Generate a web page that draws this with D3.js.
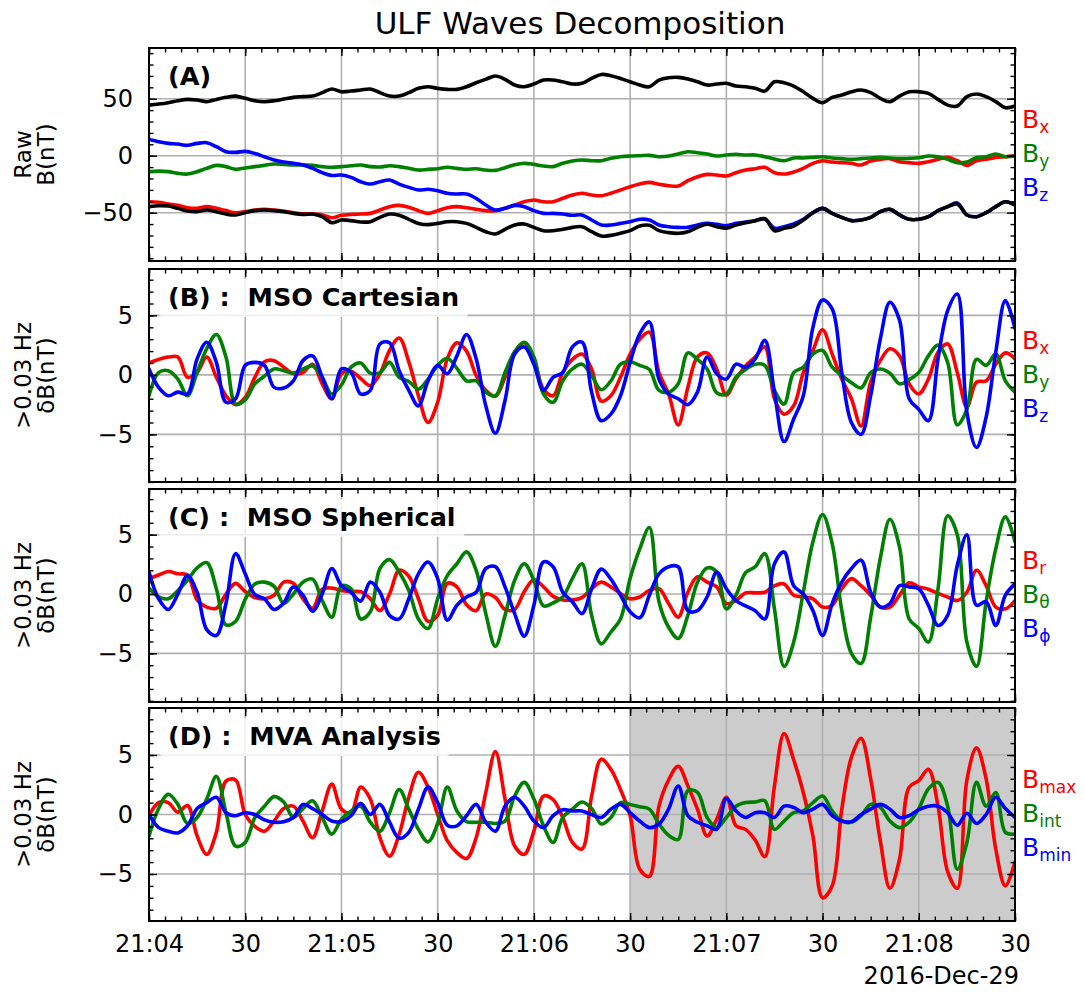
<!doctype html>
<html lang="en">
<head>
<meta charset="utf-8">
<title>ULF Waves Decomposition</title>
<script src="https://d3js.org/d3.v7.min.js"></script>
<style>
  body { margin: 0; background: #fff; }
  svg text { font-family: "DejaVu Sans", sans-serif; fill: #000; }
  .grid line { stroke: #b0b0b0; stroke-width: 1.6; }
  .tick line { stroke: #000; }
  .trace { fill: none; stroke-width: 3.6; stroke-linejoin: round; stroke-linecap: round; }
</style>
</head>
<body>
<svg width="1085" height="996"></svg>
<script>
// ---- data: one reading every 3 s from 21:04:00 to 21:08:30 UT (91 points) ----
// each row of 10 covers one 30 s grid interval
var rawBmag = [
  44.4, 45.3, 46.5, 48.2, 49.4, 48.8, 47.4, 49.4, 51.2, 52.3,
  50.3, 48.2, 47.4, 48.2, 49.7, 51.2, 51.8, 52.3, 55.3, 58.5,
  56.1, 56.7, 57.6, 58.5, 55.3, 52.3, 52.3, 55.3, 59.1, 60.5,
  59.1, 58.2, 58.2, 60.5, 64.0, 67.0, 69.9, 67.0, 62.0, 60.5,
  62.9, 66.4, 66.4, 64.9, 62.9, 63.5, 67.8, 71.3, 70.2, 67.8,
  64.9, 62.0, 60.5, 66.4, 68.4, 68.7, 67.3, 64.9, 62.0, 62.9,
  63.5, 61.1, 60.5, 59.1, 56.7, 64.9, 64.0, 61.1, 56.1, 50.3,
  46.5, 51.2, 53.2, 56.1, 57.6, 55.3, 50.3, 47.4, 52.3, 56.1,
  56.1, 54.7, 49.4, 44.4, 43.6, 51.8, 54.1, 51.8, 47.4, 42.1,
  43.6];
var rawBmagNeg = [
  -44.7, -43.9, -44.2, -46.2, -48.5, -49.1, -47.7, -49.1, -51.2, -52.0,
  -50.0, -48.2, -47.7, -48.2, -49.1, -50.6, -51.5, -51.2, -53.5, -58.8,
  -56.4, -57.0, -58.2, -57.9, -54.1, -51.2, -52.3, -55.8, -59.4, -60.5,
  -59.4, -57.9, -57.9, -59.4, -62.9, -66.7, -68.7, -64.6, -60.8, -59.9,
  -62.9, -65.8, -65.8, -64.6, -62.9, -62.3, -66.7, -70.5, -69.9, -68.1,
  -65.8, -61.7, -61.1, -65.8, -67.5, -68.1, -66.7, -62.9, -60.2, -62.3,
  -63.7, -60.8, -58.8, -57.0, -55.3, -65.8, -63.7, -61.7, -56.4, -50.0,
  -46.2, -50.6, -54.1, -57.0, -56.4, -54.1, -49.1, -47.1, -52.0, -55.8,
  -55.8, -53.5, -48.2, -44.7, -42.4, -52.0, -53.5, -50.0, -44.7, -40.4,
  -43.3];
var rawBx = [
  -40.4, -40.9, -42.4, -43.6, -45.6, -46.2, -44.7, -46.2, -48.2, -50.0,
  -49.1, -47.7, -47.1, -47.7, -48.8, -50.0, -50.9, -51.2, -52.0, -54.4,
  -52.3, -51.5, -51.2, -50.6, -47.7, -44.7, -43.6, -45.3, -48.2, -50.6,
  -48.2, -45.6, -44.7, -45.6, -47.1, -48.2, -48.2, -46.2, -43.3, -40.4,
  -38.9, -40.4, -40.4, -37.4, -34.5, -33.0, -34.5, -35.1, -33.0, -30.1,
  -27.2, -24.9, -23.4, -25.1, -26.3, -26.6, -21.9, -18.4, -16.4, -17.0,
  -17.8, -14.9, -12.6, -11.4, -10.2, -14.9, -16.1, -14.3, -11.1, -6.7,
  -4.4, -5.6, -6.1, -6.7, -8.2, -4.7, -3.2, -2.6, -5.3, -6.1,
  -6.7, -5.3, -3.2, -1.5, -4.4, -8.5, -4.4, -3.2, -1.5, -0.9,
  0.0];
var rawBy = [
  -14.0, -13.5, -14.0, -15.5, -16.1, -14.0, -11.1, -8.5, -9.6, -12.0,
  -10.8, -9.6, -8.5, -7.3, -7.6, -8.2, -7.9, -8.5, -9.6, -10.2,
  -9.6, -8.8, -8.2, -9.6, -9.9, -8.8, -9.6, -11.1, -12.6, -12.0,
  -11.4, -10.2, -11.1, -12.0, -11.4, -12.6, -12.9, -10.5, -7.9, -6.7,
  -7.6, -9.1, -9.6, -6.7, -4.7, -3.8, -4.4, -4.4, -2.3, -0.9,
  -0.3, 0.0, 0.3, -0.9, -0.3, 1.5, 3.5, 2.6, 1.5, -0.3,
  0.6, 1.2, 0.6, 0.6, -0.9, -2.9, -4.4, -2.0, -2.0, -1.5,
  -0.9, -2.0, -2.6, -3.2, -2.6, -2.0, -1.5, -2.0, -2.6, -2.3,
  -1.8, -0.3, -0.9, -3.2, -6.1, -5.6, -1.5, -0.9, 1.5, -0.9,
  -0.3];
var rawBz = [
  14.3, 12.3, 10.8, 10.2, 9.1, 10.8, 11.4, 7.9, 3.5, 2.9,
  3.8, 2.0, -0.9, -3.8, -5.6, -6.7, -8.2, -11.1, -14.9, -17.3,
  -17.0, -19.0, -22.8, -24.9, -22.8, -21.3, -24.9, -27.8, -30.1, -29.5,
  -30.7, -33.0, -33.6, -33.6, -37.4, -43.3, -47.7, -46.2, -43.6, -44.7,
  -48.2, -50.6, -50.6, -51.2, -52.3, -52.0, -56.4, -60.8, -60.8, -59.4,
  -57.9, -55.8, -56.4, -60.8, -62.3, -62.9, -62.9, -60.8, -59.4, -60.2,
  -61.4, -59.4, -58.2, -57.0, -55.6, -63.7, -62.3, -59.9, -55.8, -50.0,
  -46.2, -50.6, -54.1, -57.0, -56.4, -54.1, -49.1, -47.1, -52.0, -55.8,
  -55.8, -53.5, -48.2, -44.7, -41.5, -52.0, -53.5, -50.0, -44.7, -40.4,
  -43.3];

// > 0.03 Hz, MSO cartesian
var cartBx = [
  1.0, 1.3, 1.5, 1.5, -0.2, 0.2, 1.5, -0.2, -1.75, -2.5,
  -1.9, -0.2, 1.1, 1.2, 0.65, 0.1, 0.2, 0.9, -0.75, -2.0,
  0.1, 0.3, -0.3, -0.9, 0.1, 2.05, 3.1, 1.1, -1.75, -4.0,
  -2.3, 1.35, 2.7, 2.0, -0.05, -1.3, -1.8, -0.2, 1.9, 2.7,
  1.35, -1.2, -1.75, 0.2, 1.3, 1.75, 0.5, -2.2, -1.75, -0.2,
  1.75, 3.0, 3.6, 0.2, -1.6, -4.2, -1.05, 1.5, 1.85, 0.5,
  -1.7, -0.35, 0.75, 1.5, 2.35, -2.0, -3.3, -2.6, 0.2, 2.05,
  3.8, 1.75, -0.35, -2.0, -4.3, -0.6, 1.2, 2.2, 1.6, -0.75,
  -1.6, -0.35, 1.9, 2.6, 0.2, -2.7, -0.6, -0.5, 0.9, 1.85,
  1.35];
var cartBy = [
  -1.75, 0.2, 0.35, -0.35, -1.75, 0.2, 2.2, 3.4, 1.5, -2.45,
  -2.1, -0.75, -0.1, 0.5, 0.35, 0.15, 0.5, 0.75, -0.2, -1.6,
  -0.85, 0.65, 1.0, 0.15, 0.2, 1.05, -0.2, -0.55, -1.2, -0.35,
  0.8, 1.4, 0.55, -0.5, -0.5, -1.45, -1.75, 0.2, 1.95, 2.75,
  1.5, -1.6, -2.3, -0.5, 0.5, 0.9, -0.05, -1.25, -0.5, 0.9,
  1.1, 0.8, 0.45, -1.3, -1.45, -0.75, 1.85, 1.3, 0.5, -1.5,
  -1.6, -0.2, 0.45, 0.9, 0.8, -1.3, -2.45, 0.2, 0.65, 1.75,
  2.05, 0.65, -0.05, -0.65, -1.1, 0.2, 0.5, 0.15, -0.75, -0.4,
  0.2, 1.6, 2.5, 1.05, -4.2, -2.9, 1.3, 0.8, 1.75, -0.5,
  -1.45];
var cartBz = [
  0.5, -1.05, -1.75, -1.45, -1.6, 1.35, 2.75, 1.05, -2.3, -2.0,
  0.8, 1.05, 0.8, -1.05, -1.1, -0.5, 1.2, 1.6, -0.2, -2.0,
  0.5, 0.2, -1.6, -1.3, 2.6, 2.7, 0.35, -1.3, -2.6, -0.5,
  0.8, 0.1, 1.6, 3.4, 1.35, -2.6, -4.9, -2.15, 1.75, 2.35,
  0.9, -1.3, -0.2, 0.2, 2.35, 2.75, -1.45, -3.85, -3.3, -1.75,
  1.05, 3.45, 4.45, -0.35, -1.6, -2.0, -2.5, -1.45, 1.5, 0.1,
  -0.35, 0.9, 0.65, 1.35, 2.9, -1.45, -5.6, -3.7, -1.75, 4.0,
  6.3, 5.55, 0.2, -4.0, -5.0, -1.75, 3.0, 6.1, 4.6, -2.0,
  -2.9, -3.85, 1.35, 5.4, 6.8, -3.15, -6.1, -3.55, 1.9, 6.25,
  3.9];

// > 0.03 Hz, MSO spherical
var sphBr = [
  1.3, 1.6, 1.9, 1.7, 1.6, -0.5, -1.1, -1.2, 0.0, 0.9,
  0.2, -0.3, -0.4, -0.1, 1.0, 0.9, -0.4, -1.2, 0.4, 0.5,
  0.3, 0.2, 0.2, -0.4, -1.4, 0.0, 2.0, 1.5, -0.4, -2.3,
  -1.8, 0.9, 0.6, -0.9, -1.4, 0.0, -0.3, -1.3, -1.3, 0.2,
  1.2, 0.6, -0.2, -0.5, -0.5, -0.3, 0.45, 1.0, 0.6, 0.05,
  -0.4, -0.25, 0.3, 0.45, -0.8, -1.95, 0.15, 1.45, 1.0, 0.6,
  -0.8, -0.55, 0.1, 0.1, 0.15, 0.7, 0.85, -0.1, -0.25, -0.4,
  -1.1, -0.95, 0.45, 1.3, 0.7, -0.1, -1.1, -1.1, -0.1, 0.95,
  0.6, 0.4, 0.05, -0.25, -0.55, 0.15, 2.0, 0.7, -1.1, -1.25,
  -0.55];
var sphBth = [
  0.5, -0.25, -0.4, 0.3, 1.15, 2.2, 2.65, 0.45, -2.6, -2.3,
  -0.45, 0.85, 1.0, 0.65, -0.8, 0.0, 1.0, 1.25, -0.55, -1.95,
  0.7, 0.45, -2.1, -1.5, 2.15, 2.9, 1.85, 0.3, -2.1, -2.9,
  -0.4, 1.55, 2.55, 3.55, 2.0, -1.65, -4.4, -1.8, 1.15, 2.55,
  1.15, -1.0, -0.75, -0.25, 1.3, 2.55, -1.8, -4.2, -3.2, -2.1,
  1.3, 3.8, 5.6, -0.65, -2.8, -3.75, -1.8, 1.0, 2.2, 1.85,
  -1.25, -0.1, 1.8, 2.3, 3.4, -1.25, -6.1, -4.05, 0.15, 4.4,
  6.7, 4.25, -1.4, -5.0, -5.85, -1.95, 3.0, 6.3, 3.95, -2.1,
  -2.9, -4.05, 0.45, 6.6, 5.0, -4.05, -6.1, -0.65, 3.8, 6.5,
  4.4];
var sphBph = [
  1.85, -0.4, -1.3, 0.0, 1.55, 0.15, -3.0, -3.5, -0.8, 3.4,
  1.7, -0.05, -0.4, -1.3, -0.75, 0.6, -0.1, -1.45, 0.0, 2.15,
  0.7, 0.15, -0.6, 1.0, 0.15, -1.8, -2.1, -0.4, 1.7, 2.7,
  1.3, -2.2, -0.95, -0.25, 0.15, 2.15, 2.3, 0.6, -1.65, -3.55,
  -0.95, 2.7, 2.3, 0.15, -0.65, -1.65, 0.45, 2.1, 1.25, -0.1,
  -1.5, -2.0, -0.1, 1.7, 2.3, 2.3, -1.4, -1.4, -0.25, 1.85,
  0.45, -0.55, -1.0, -1.4, -2.1, 2.55, 3.55, 0.7, 0.0, -1.4,
  -3.5, -0.8, 1.0, 2.15, 2.85, 0.15, -1.1, -0.8, 0.7, 0.6,
  0.45, -0.95, -2.65, -1.8, 2.4, 5.0, -0.95, -0.65, -2.65, -0.1,
  0.85];

// > 0.03 Hz, minimum variance frame
var mvaBmax = [
  -0.1, 1.0, 1.0, 0.2, 0.75, -1.8, -3.35, -1.5, 2.8, 2.9,
  0.0, -1.0, -1.4, -0.55, 0.5, 0.7, -0.55, -1.95, 0.3, 2.55,
  0.45, 0.15, 2.3, 1.3, -1.95, -3.5, -1.65, 1.45, 3.55, 2.3,
  0.0, -2.2, -3.2, -3.7, -1.95, 1.85, 5.3, 1.3, -2.65, -3.35,
  -1.4, 1.55, 1.25, -0.25, -2.35, -2.9, 1.55, 4.65, 3.8, 2.1,
  -0.1, -4.6, -5.2, 0.7, 2.9, 4.05, 2.4, 0.45, -1.8, -0.4,
  1.45, -0.95, -1.25, -2.15, -3.55, 2.4, 6.8, 4.6, 1.85, -1.8,
  -7.0, -6.0, 0.45, 4.8, 6.4, 3.0, -2.2, -6.2, -3.75, 2.3,
  2.85, 3.8, 0.7, -4.8, -6.2, 2.9, 5.6, 3.0, -2.9, -6.0,
  -4.0];
var mvaBint = [
  -1.8, 0.5, 1.7, 0.85, -0.75, -0.25, 1.3, 3.2, 0.15, -2.65,
  -2.35, -0.25, 0.7, 1.5, 1.05, -0.25, 0.5, 1.15, -0.25, -1.65,
  -0.4, 0.3, 0.7, -0.65, -1.4, 0.15, 2.1, 0.45, -1.25, -2.3,
  -0.75, 2.3, 0.3, -0.6, -0.65, -0.65, -0.75, -0.55, 1.55, 2.7,
  1.3, -0.95, -2.35, -0.25, 0.45, 1.05, 0.5, -0.8, -0.25, 1.0,
  0.85, 0.65, 0.45, -0.8, -1.75, -2.1, 2.0, 1.85, -0.25, -1.1,
  -0.25, 0.7, 1.0, 1.05, 1.15, -1.25, -0.55, 0.15, 0.3, 1.0,
  1.55, 0.3, -0.55, -0.65, -0.1, 0.85, 0.6, -0.55, -1.1, -0.65,
  0.5, 2.15, 2.7, 0.7, -4.6, -2.35, 2.7, 0.7, 1.85, -1.5,
  -1.65];
var mvaBmin = [
  0.0, -1.1, -1.4, -1.55, -0.95, 0.5, 1.0, 1.45, 0.15, -0.1,
  0.15, 0.0, -0.45, -0.65, -0.6, -0.25, 0.85, 0.5, 0.0, -0.55,
  -0.6, -0.1, 0.95, 0.0, 0.85, -0.65, -2.0, -1.5, 0.45, 2.3,
  1.0, -0.9, -0.95, -0.1, 0.85, -0.65, -1.4, 0.7, 1.45, 0.7,
  -0.55, -1.1, -0.1, 0.4, 0.3, 0.3, 0.0, -0.25, 0.45, 0.85,
  0.15, -0.55, -1.1, -0.8, 0.45, 2.4, -0.1, -0.65, -0.95, -1.25,
  1.35, 0.3, -0.25, 0.15, 0.15, -0.25, 0.7, 0.6, 0.15, 0.45,
  0.85, -0.1, -0.55, -0.6, 0.0, 0.45, 0.85, 0.45, -0.25, -0.1,
  0.4, 0.7, 0.7, 0.15, -0.9, 0.1, -0.75, 0.0, 1.45, 0.5,
  -0.25];

var panelLabels = ['(A)', '(B) :  MSO Cartesian', '(C) :  MSO Spherical', '(D) :  MVA Analysis'];
var yLabels = [['Raw', 'B(nT)'], ['>0.03 Hz', 'δB(nT)'], ['>0.03 Hz', 'δB(nT)'], ['>0.03 Hz', 'δB(nT)']];
var legendSubs = [['x', 'y', 'z'], ['x', 'y', 'z'], ['r', 'θ', 'ϕ'], ['max', 'int', 'min']];
var rawTicks = [-50, 0, 50];
var dbTicks = [-5, 0, 5];
var shadeFrom = 150; // seconds after 21:04:00 where the MVA interval starts

// ---- layout ----
var start = Date.UTC(2016, 11, 29, 21, 4, 0);
var secs = d3.range(0, 271, 3);
var times = secs.map(function(s){ return new Date(start + s * 1000); });
var colors = ['#ff0000', '#008000', '#0000ff'];

var left = 149, right = 1015, panelH = 213;
var tops = [48, 269, 489, 708];

var svg = d3.select('svg');

var x = d3.scaleUtc()
  .domain([new Date(start), new Date(start + 270000)])
  .range([left, right]);

var majorX = d3.utcSecond.every(30).range(new Date(start), new Date(start + 270001));
var minorX = d3.utcSecond.every(5).range(new Date(start), new Date(start + 270001));
var fmtX = function(d){ return d.getUTCSeconds() === 0 ? d3.utcFormat('%H:%M')(d) : '30'; };

var panels = [
  { dom: [-92.4, 94.5], major: rawTicks, minor: d3.range(-90, 91, 10),
    series: [[rawBx, colors[0]], [rawBy, colors[1]], [rawBz, colors[2]], [rawBmag, '#000'], [rawBmagNeg, '#000']] },
  { dom: [-9.0, 8.9], major: dbTicks, minor: d3.range(-9, 9, 1),
    series: [[cartBx, colors[0]], [cartBy, colors[1]], [cartBz, colors[2]]] },
  { dom: [-9.1, 8.85], major: dbTicks, minor: d3.range(-9, 9, 1),
    series: [[sphBr, colors[0]], [sphBth, colors[1]], [sphBph, colors[2]]] },
  { dom: [-8.95, 8.95], major: dbTicks, minor: d3.range(-8, 9, 1),
    series: [[mvaBmax, colors[0]], [mvaBint, colors[1]], [mvaBmin, colors[2]]] }
];

function tickAxis(g, axis, values, size, fmt, pad){
  g.call(axis.tickValues(values).tickSize(size).tickPadding(pad || 3).tickFormat(fmt || ''));
  g.select('.domain').remove();
  g.attr('font-family', null).attr('font-size', null);
}

svg.append('text')
  .attr('x', (left + right) / 2 - 2).attr('y', 34)
  .attr('text-anchor', 'middle')
  .style('font-size', '31px')
  .text('ULF Waves Decomposition');

panels.forEach(function(p, i){
  var top = tops[i], bottom = top + panelH;
  var y = d3.scaleLinear().domain(p.dom).range([bottom, top]);
  var g = svg.append('g');

  g.append('clipPath').attr('id', 'clip' + i)
    .append('rect').attr('x', left).attr('y', top).attr('width', right - left).attr('height', panelH);

  if (i === 3) {
    g.append('rect')
      .attr('x', x(new Date(start + shadeFrom * 1000))).attr('y', top)
      .attr('width', right - x(new Date(start + shadeFrom * 1000))).attr('height', panelH)
      .attr('fill', '#cccccc');
  }

  // grid
  var grid = g.append('g').attr('class', 'grid');
  grid.selectAll('.gx').data(majorX.slice(1, -1)).enter().append('line')
    .attr('x1', function(d){ return x(d); }).attr('x2', function(d){ return x(d); })
    .attr('y1', top).attr('y2', bottom);
  grid.selectAll('.gy').data(p.major).enter().append('line')
    .attr('x1', left).attr('x2', right)
    .attr('y1', function(d){ return y(d); }).attr('y2', function(d){ return y(d); });

  // traces
  var line = d3.line()
    .x(function(d, k){ return x(times[k]); })
    .y(function(d){ return y(d); })
    .curve(d3.curveCatmullRom.alpha(0.5));
  var traces = g.append('g').attr('clip-path', 'url(#clip' + i + ')');
  p.series.forEach(function(s){
    traces.append('path').attr('class', 'trace').attr('stroke', s[1]).attr('d', line(s[0]));
  });

  // panel label with a translucent box behind it
  var lab = g.append('text')
    .attr('x', 168).attr('y', top + 37)
    .style('font-size', '25.5px').style('font-weight', 'bold').style('white-space', 'pre')
    .text(panelLabels[i]);
  var bb = lab.node().getBBox();
  g.insert('rect', function(){ return lab.node(); })
    .attr('x', bb.x - 9).attr('y', top + 10)
    .attr('width', bb.width + 18).attr('height', 38)
    .attr('rx', 4)
    .attr('fill', '#fff').attr('fill-opacity', 0.8);

  // ticks, pointing inwards on all four sides
  var gb = g.append('g').attr('transform', 'translate(0,' + bottom + ')');
  tickAxis(gb.append('g'), d3.axisBottom(x), minorX, -4.5);
  tickAxis(gb.append('g'), d3.axisBottom(x), majorX, -8, i === 3 ? fmtX : null, 14);
  var gt = g.append('g').attr('transform', 'translate(0,' + top + ')');
  tickAxis(gt.append('g'), d3.axisTop(x), minorX, -4.5);
  tickAxis(gt.append('g'), d3.axisTop(x), majorX, -8);
  var gl = g.append('g').attr('transform', 'translate(' + left + ',0)');
  tickAxis(gl.append('g'), d3.axisLeft(y), p.minor, -4.5);
  tickAxis(gl.append('g'), d3.axisLeft(y), p.major, -8, d3.format('d'), 16);
  var gr = g.append('g').attr('transform', 'translate(' + right + ',0)');
  tickAxis(gr.append('g'), d3.axisRight(y), p.minor, -4.5);
  tickAxis(gr.append('g'), d3.axisRight(y), p.major, -8);

  gl.selectAll('text').style('font-size', '24px');
  gb.selectAll('text').style('font-size', '24px');
  g.selectAll('.tick line').attr('stroke-width', 1.4);

  g.append('rect')
    .attr('x', left).attr('y', top).attr('width', right - left).attr('height', panelH)
    .attr('fill', 'none').attr('stroke', '#000').attr('stroke-width', 2);

  // y label (two lines)
  var yl = g.append('text')
    .attr('transform', 'translate(31,' + (top + panelH / 2) + ') rotate(-90)')
    .attr('text-anchor', 'middle')
    .style('font-size', '23px');
  yl.append('tspan').attr('x', 0).attr('dy', 0).text(yLabels[i][0]);
  yl.append('tspan').attr('x', 0).attr('dy', 23).text(yLabels[i][1]);

  // component labels on the right
  legendSubs[i].forEach(function(sub, k){
    var t = g.append('text')
      .attr('x', 1022).attr('y', top + 80 + k * 34)
      .attr('fill', colors[k]).style('fill', colors[k])
      .style('font-size', '25px')
      .text('B');
    t.append('tspan').attr('dy', 5).style('font-size', '17px').text(sub);
  });
});

svg.append('text')
  .attr('x', right + 4).attr('y', 984)
  .attr('text-anchor', 'end')
  .style('font-size', '24px')
  .text('2016-Dec-29');
</script>
</body>
</html>
